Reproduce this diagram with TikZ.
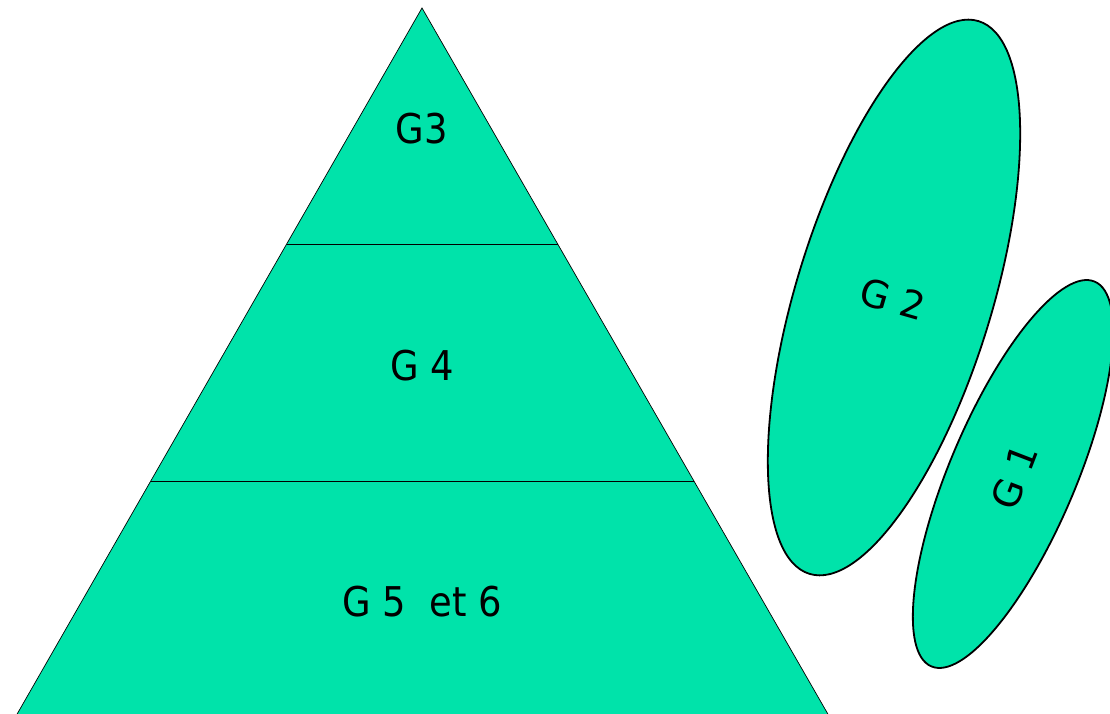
\documentclass[tikz,border=0pt]{standalone}
\usepackage{fontspec}
\setmainfont{DejaVu Sans}[FakeStretch=0.9]
\newfontfamily\widefont{DejaVu Sans}
\definecolor{gfill}{RGB}{0,227,170}
\begin{document}
\begin{tikzpicture}[x=1pt,y=1pt,
  tri/.style={fill=gfill,draw=black,line width=0.7pt,line join=miter},
  sep/.style={draw=black,line width=0.9pt},
  oval/.style={fill=gfill,draw=black,line width=1.8pt},
  lab/.style={font=\fontsize{41}{41}\selectfont,text depth=0pt,inner sep=0pt},
  olab/.style={font=\widefont\fontsize{38}{38}\selectfont,text depth=0pt,inner sep=0pt}]
\useasboundingbox (0,0) rectangle (1110,714);
% pyramid
\coordinate (apex) at (422,706);
\coordinate (bl) at (16,-2);
\coordinate (br) at (829,-2);
\draw[tri] (apex) -- (br) -- (bl) -- cycle;
\coordinate (l1) at (286.5,470);
\coordinate (r1) at (557.5,470);
\coordinate (l2) at (151,233);
\coordinate (r2) at (694,233);
\draw[sep] (l1) -- (r1);
\draw[sep] (l2) -- (r2);
\node[lab] (g3) at (422,586) {G3};
\node[lab] (g4) at (422,349) {G 4};
\node[lab] (g56) at (422,113) {G 5\ \ et 6};
% ovals
\draw[oval,rotate around={73:(894,416.5)}] (894,416.5) ellipse [x radius=289pt, y radius=98pt];
\draw[oval,rotate around={67:(1013,240)}] (1013,240) ellipse [x radius=209pt, y radius=63pt];
\node[olab,rotate=-16] (g2) at (893,415) {G 2};
\node[olab,rotate=69] (g1) at (1014,237) {G 1};
\end{tikzpicture}
\end{document}
